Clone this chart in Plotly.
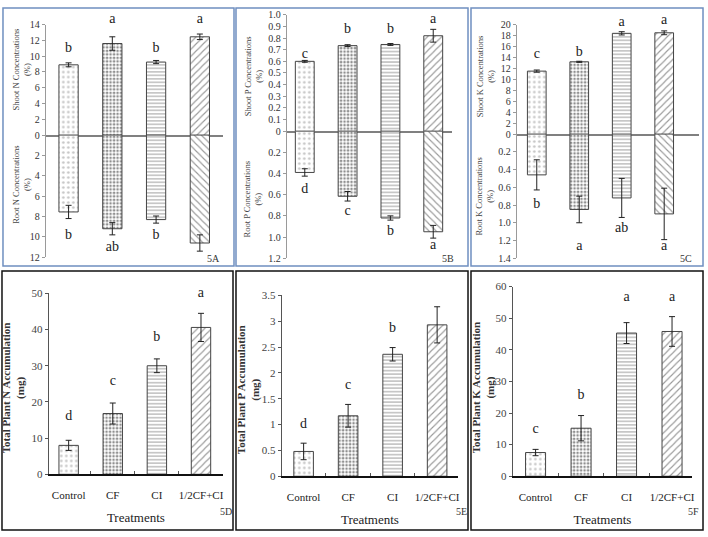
import plotly.graph_objects as go

W, H = 708, 537

def px(x):
    return x / W

def py(y):
    return 1 - y / H

categories = ["Control", "CF", "CI", "1/2CF+CI"]

# Panel 5A
shootN = [8.9, 11.6, 9.25, 12.45]
shootN_err = [0.25, 0.85, 0.2, 0.35]
shootN_letters = ["b", "a", "b", "a"]
shootN_lpos = [11.0, 14.6, 11.0, 14.6]
rootN = [7.55, 9.2, 8.3, 10.6]
rootN_err = [0.65, 0.6, 0.35, 0.8]
rootN_letters = ["b", "ab", "b", "a"]
rootN_lpos = [9.9, 11.0, 9.9, 12.2]

# Panel 5B
shootP = [0.60, 0.735, 0.745, 0.82]
shootP_err = [0.008, 0.008, 0.008, 0.055]
shootP_letters = ["c", "b", "b", "a"]
shootP_lpos = [0.66, 0.87, 0.87, 0.96]
rootP = [0.39, 0.615, 0.82, 0.95]
rootP_err = [0.035, 0.045, 0.02, 0.06]
rootP_letters = ["d", "c", "b", "a"]
rootP_lpos = [0.55, 0.76, 0.95, 1.08]

# Panel 5C
shootK = [11.5, 13.2, 18.4, 18.5]
shootK_err = [0.2, 0.1, 0.3, 0.35]
shootK_letters = ["c", "b", "a", "a"]
shootK_lpos = [14.6, 14.9, 20.4, 20.7]
rootK = [0.46, 0.85, 0.72, 0.90]
rootK_err = [0.17, 0.15, 0.22, 0.29]
rootK_letters = ["b", "a", "ab", "a"]
rootK_lpos = [0.79, 1.27, 1.07, 1.27]

# Panels 5D-5F
totalN = [8.0, 16.8, 30.0, 40.6]
totalN_err = [1.4, 2.9, 1.9, 3.9]
totalN_letters = ["d", "c", "b", "a"]
totalN_lpos = [16.0, 25.7, 37.8, 50.0]
totalP = [0.48, 1.17, 2.36, 2.93]
totalP_err = [0.16, 0.22, 0.13, 0.35]
totalP_letters = ["d", "c", "b", "a"]
totalP_lpos = [1.0, 1.76, 2.85, 3.6]
totalK = [7.5, 15.2, 45.3, 45.8]
totalK_err = [1.0, 4.0, 3.3, 4.7]
totalK_letters = ["c", "b", "a", "a"]
totalK_lpos = [14.8, 25.7, 56.6, 56.6]

SERIF = "Liberation Serif, Times New Roman, serif"
xpos = list(range(len(categories)))

def pattern(hatch):
    return dict(
        shape=[".", ".", "-", hatch],
        fgcolor=["#8a8a8a", "#222222", "#505050", "#333333"],
        bgcolor=["white"] * 4,
        size=[5, 3.5, 3.5, 5],
        solidity=[0.2, 0.45, 0.32, 0.22],
    )

fig = go.Figure()
layout = dict(
    width=W, height=H, margin=dict(l=0, r=0, t=0, b=0),
    paper_bgcolor="white", plot_bgcolor="rgba(0,0,0,0)",
    showlegend=False, font=dict(family=SERIF, color="#222"),
)
annotations = []
shapes = []
ax_i = [0]

def new_ax():
    ax_i[0] += 1
    return str(ax_i[0])

def add_bars(vals, errs, hatch, ax):
    fig.add_trace(go.Bar(
        x=xpos, y=vals, width=0.44,
        marker=dict(color="white", line=dict(color="#444", width=1), pattern=pattern(hatch)),
        error_y=dict(type="data", array=errs, color="#222", thickness=1, width=3),
        xaxis="x" + ax, yaxis="y" + ax, hoverinfo="skip",
    ))

def add_letters(lpos, letters, ax):
    fig.add_trace(go.Scatter(
        x=xpos, y=lpos, text=letters, mode="text", textposition="middle center",
        textfont=dict(size=14, family=SERIF, color="#222222"), cliponaxis=False,
        xaxis="x" + ax, yaxis="y" + ax, hoverinfo="skip",
    ))

def paper_text(text, x, y, size, color, angle=0):
    annotations.append(dict(x=px(x), y=py(y), xref="paper", yref="paper",
                            text=text, textangle=angle,
                            showarrow=False, xanchor="center", yanchor="middle",
                            font=dict(size=size, family=SERIF, color=color)))

def fmt(v, dec):
    if v == 0:
        return "0"
    return ("{:.%df}" % dec).format(v) if dec > 0 else "{:g}".format(v)

top_panels = [
    dict(x0=46, x1=224, xr=[-0.52, 3.53], top=19, zero=132, low=257,
         up=(14, 2, 0), lo=(12, 2, 0), nut="N",
         s=(shootN, shootN_err, shootN_letters, shootN_lpos),
         r=(rootN, rootN_err, rootN_letters, rootN_lpos), lab="5A", labx=214, border=(3, 235),
         tx=22, ty_up=65, ty_lo=183),
    dict(x0=288, x1=454, xr=[-0.42, 3.44], top=9, zero=128, low=258,
         up=(1.0, 0.1, 1), lo=(1.2, 0.2, 1), nut="P",
         s=(shootP, shootP_err, shootP_letters, shootP_lpos),
         r=(rootP, rootP_err, rootP_letters, rootP_lpos), lab="5B", labx=450, border=(237, 470),
         tx=254, ty_up=72, ty_lo=197),
    dict(x0=519, x1=702, xr=[-0.47, 3.82], top=19, zero=131, low=258,
         up=(20, 2, 0), lo=(1.4, 0.2, 1), nut="K",
         s=(shootK, shootK_err, shootK_letters, shootK_lpos),
         r=(rootK, rootK_err, rootK_letters, rootK_lpos), lab="5C", labx=689, border=(473, 706),
         tx=487, ty_up=72, ty_lo=195),
]

for p in top_panels:
    # upper subplot
    a = new_ax()
    umax, ud, udec = p["up"]
    n = int(round(umax / ud))
    uvals = [round(k * ud, 6) for k in range(n + 1)]
    layout["xaxis" + a] = dict(domain=[px(p["x0"]), px(p["x1"])], range=p["xr"], anchor="y" + a,
                               showline=True, linecolor="#808080", linewidth=1.5,
                               showticklabels=False, ticks="", showgrid=False, zeroline=False,
                               fixedrange=True)
    layout["yaxis" + a] = dict(domain=[py(p["zero"]), py(p["top"])], range=[0, umax], anchor="x" + a,
                               showline=True, linecolor="#9a9a9a", linewidth=1,
                               ticks="outside", ticklen=3, tickcolor="#9a9a9a",
                               tickvals=uvals, ticktext=[fmt(v, udec) for v in uvals],
                               tickfont=dict(size=10, family=SERIF, color="#333"),
                               showgrid=False, zeroline=False, fixedrange=True)
    vals, errs, lets, lpos = p["s"]
    add_bars(vals, errs, "/", a)
    # letters on an invisible twin subplot whose domain reaches higher, same scale
    la = new_ax()
    top_ext = max(0, p["top"] - 16)
    ext_max = umax * (p["zero"] - top_ext) / (p["zero"] - p["top"])
    layout["xaxis" + la] = dict(domain=[px(p["x0"]), px(p["x1"])], range=p["xr"], anchor="y" + la,
                                visible=False, fixedrange=True)
    layout["yaxis" + la] = dict(domain=[py(p["zero"]), py(top_ext)], range=[0, ext_max], anchor="x" + la,
                                visible=False, fixedrange=True)
    add_letters(lpos, lets, la)
    paper_text("Shoot %s Concentrations<br>(%%)" % p["nut"], p["tx"], p["ty_up"], 8.5, "#444", -90)
    # lower subplot
    a = new_ax()
    lmax, ld, ldec = p["lo"]
    n = int(round(lmax / ld))
    lvals = [round(k * ld, 6) for k in range(1, n + 1)]
    layout["xaxis" + a] = dict(domain=[px(p["x0"]), px(p["x1"])], range=p["xr"], anchor="y" + a,
                               visible=False, fixedrange=True)
    layout["yaxis" + a] = dict(domain=[py(p["low"]), py(p["zero"])], range=[lmax, 0], anchor="x" + a,
                               showline=True, linecolor="#9a9a9a", linewidth=1,
                               ticks="outside", ticklen=3, tickcolor="#9a9a9a",
                               tickvals=lvals, ticktext=[fmt(v, ldec) for v in lvals],
                               tickfont=dict(size=10, family=SERIF, color="#333"),
                               showgrid=False, zeroline=False, fixedrange=True)
    vals, errs, lets, lpos = p["r"]
    add_bars(vals, errs, "\\", a)
    add_letters(lpos, lets, a)
    paper_text("Root %s Concentrations<br>(%%)" % p["nut"], p["tx"], p["ty_lo"], 8.5, "#444", -90)
    paper_text(p["lab"], p["labx"], 258, 10, "#333")
    b0, b1 = p["border"]
    shapes.append(dict(type="rect", xref="paper", yref="paper", x0=px(b0), x1=px(b1),
                       y0=py(266), y1=py(2), line=dict(color="#6f8fc0", width=1.5)))

bottom_panels = [
    dict(x0=49, x1=224, xr=[-0.45, 3.5], top=294, bot=479, ymax=50, dt=10, nut="N",
         d=(totalN, totalN_err, totalN_letters, totalN_lpos), lab="5D", labx=227, border=(2, 234),
         tx=13, ty=390),
    dict(x0=283, x1=460, xr=[-0.49, 3.47], top=296, bot=481, ymax=3.5, dt=0.5, nut="P",
         d=(totalP, totalP_err, totalP_letters, totalP_lpos), lab="5E", labx=463, border=(237, 470),
         tx=249, ty=392),
    dict(x0=515, x1=695, xr=[-0.5, 3.44], top=287, bot=481, ymax=60, dt=10, nut="K",
         d=(totalK, totalK_err, totalK_letters, totalK_lpos), lab="5F", labx=696, border=(473, 706),
         tx=485, ty=390),
]

for p in bottom_panels:
    a = new_ax()
    n = int(round(p["ymax"] / p["dt"]))
    yv = [round(k * p["dt"], 6) for k in range(n + 1)]
    layout["xaxis" + a] = dict(domain=[px(p["x0"]), px(p["x1"])], range=p["xr"], anchor="y" + a,
                               showline=True, linecolor="#111", linewidth=2,
                               tickvals=xpos, ticktext=categories, ticks="",
                               ticklabelstandoff=10,
                               tickfont=dict(size=11, family=SERIF, color="#222"),
                               minor=dict(tickvals=[0.5, 1.5, 2.5], ticks="inside", ticklen=3,
                                          tickcolor="#555", showgrid=False),
                               showgrid=False, zeroline=False, fixedrange=True,
                               title=dict(text="Treatments", font=dict(size=13, family=SERIF, color="#222"),
                                          standoff=12))
    layout["yaxis" + a] = dict(domain=[py(p["bot"]), py(p["top"])], range=[0, p["ymax"]], anchor="x" + a,
                               showline=True, linecolor="#555", linewidth=1,
                               ticks="outside", ticklen=3, tickcolor="#555",
                               tickvals=yv, ticktext=[fmt(v, 0) for v in yv],
                               tickfont=dict(size=11, family=SERIF, color="#444"),
                               showgrid=False, zeroline=False, fixedrange=True)
    vals, errs, lets, lpos = p["d"]
    add_bars(vals, errs, "/", a)
    add_letters(lpos, lets, a)
    paper_text("<b>Total Plant %s Accumulation<br>(mg)</b>" % p["nut"], p["tx"], p["ty"], 11, "#333", -90)
    paper_text(p["lab"], p["labx"], 517, 10, "#333")
    b0, b1 = p["border"]
    shapes.append(dict(type="rect", xref="paper", yref="paper", x0=px(b0), x1=px(b1),
                       y0=py(536), y1=py(271), line=dict(color="#111", width=1.5)))

layout["annotations"] = annotations
layout["shapes"] = shapes
fig.update_layout(**layout)
fig.write_html("out.html", config={"displayModeBar": False},
               post_script="document.body.style.margin='0';document.body.style.padding='0';")
